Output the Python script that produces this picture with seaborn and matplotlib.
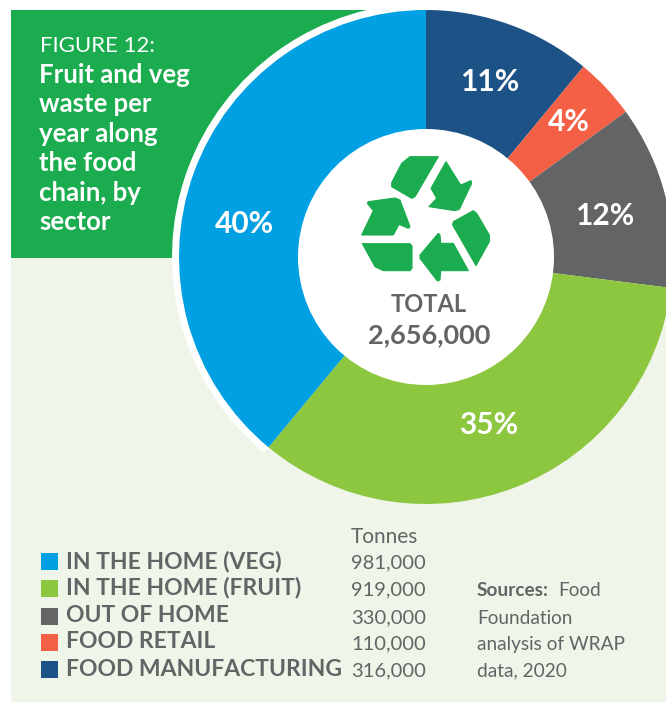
import matplotlib
matplotlib.use("Agg")
import matplotlib.pyplot as plt
from matplotlib.patches import Rectangle, Polygon, Circle, Wedge
import seaborn as sns

sectors = ["IN THE HOME (VEG)", "IN THE HOME (FRUIT)", "OUT OF HOME", "FOOD RETAIL", "FOOD MANUFACTURING"]
tonnes = ["981,000", "919,000", "330,000", "110,000", "316,000"]
# slice sizes, labels are what's printed on it
shares = [39, 34, 12, 4, 11]
share_labels = ["40%", "35%", "12%", "4%", "11%"]
colours = ["#00a0e3", "#8dc63f", "#636466", "#f36046", "#1c5285"]

sns.set_style("white")
plt.rcParams["font.family"] = ["Lato", "DejaVu Sans"]
grey = "#636466"
green = "#1aac4e"
pale = "#eff5e8"

fig = plt.figure(figsize=(6.66, 7.02), dpi=100)
bg = fig.add_axes([0, 0, 1, 1])
bg.set_xlim(0, 666)
bg.set_ylim(702, 0)
bg.axis("off")
bg.add_patch(Rectangle((11, 258), 655, 444, color=pale, lw=0))
bg.add_patch(Rectangle((11, 10), 400, 248, color=green, lw=0))

# donut, centre (426, 257) radius 247 in pixels
cx, cy, r = 426, 257, 247
ax = fig.add_axes([(cx - r) / 666, 1 - (cy + r) / 702, 2 * r / 666, 2 * r / 702], zorder=2)
ax.patch.set_alpha(0)
wedges, _ = ax.pie(shares[::-1], colors=sns.color_palette(colours[::-1]), startangle=90, counterclock=False,
                   radius=1, wedgeprops=dict(lw=0))
ax.set_xlim(-1, 1)
ax.set_ylim(-1, 1)
ax.add_patch(Circle((0, 0), 128 / 247, color="white", lw=0, zorder=5))

# white edge round the blue slice only (y axis of bg runs downwards)
blue = wedges[-1]
bg.add_patch(Wedge((cx, cy), r + 7, -blue.theta2, -blue.theta1, width=10, color="white", lw=0))
bg.add_patch(Rectangle((0, 0), 666, 10, color="white", lw=0))

top = fig.add_axes([0, 0, 1, 1], zorder=3)
top.set_xlim(0, 666)
top.set_ylim(702, 0)
top.axis("off")

label_pos = [(244, 224), (489, 425), (605, 216), (569, 122), (490, 82)]
for lab, (x, y) in zip(share_labels, label_pos):
    top.text(x, y, lab, color="white", fontsize=21.5, fontweight="bold", ha="center", va="center")

# recycling icon, zoomed pixel coords
icon = [
    [(240, 50), (325, 50), (255, 170), (245, 175), (185, 140), (185, 128), (215, 70)],
    [(348, 65), (392, 135), (423, 122), (425, 130), (388, 208), (375, 212), (297, 200), (320, 175), (303, 145)],
    [(430, 212), (440, 220), (478, 285), (478, 305), (438, 377), (368, 255), (370, 245)],
    [(325, 280), (330, 285), (332, 310), (370, 310), (415, 392), (332, 392), (330, 420), (322, 423), (270, 355), (270, 345)],
    [(97, 311), (240, 311), (246, 318), (246, 385), (240, 392), (160, 392), (135, 380)],
    [(95, 285), (130, 212), (112, 190), (115, 185), (195, 174), (210, 180), (240, 260), (235, 265), (207, 253), (190, 285)],
]
for shape in icon:
    pts = [(330 + a / 3, 140 + b / 3) for a, b in shape]
    top.add_patch(Polygon(pts, closed=True, facecolor=green, edgecolor=green, lw=0.8, joinstyle="round"))

top.text(429, 304, "TOTAL", color=grey, fontsize=17, fontweight="bold", ha="center", va="center")
top.text(429, 335, "2,656,000", color=grey, fontsize=19.5, fontweight="bold", ha="center", va="center")

# title block
top.text(40, 46, "FIGURE 12:", color="white", fontsize=16, va="center")
title_lines = ["Fruit and veg", "waste per", "year along", "the food", "chain, by", "sector"]
for i, line in enumerate(title_lines):
    top.text(39, 75 + i * 29.4, line, color="white", fontsize=18.5, fontweight="bold", va="center")

# legend and table
top.text(351, 537, "Tonnes", color=grey, fontsize=15, va="center")
name_y = [561, 588, 616, 642, 669]
for name, t, c, y in zip(sectors, tonnes, colours, name_y):
    top.add_patch(Rectangle((41, y - 8), 17, 17, color=c, lw=0))
    top.text(66, y, name, color=grey, fontsize=16.5, fontweight="bold", va="center")
    top.text(351, y + 2, t, color=grey, fontsize=14.5, va="center")

top.text(477, 591, "Sources:", color=grey, fontsize=13.7, fontweight="bold", va="center")
top.text(558, 591, "Food", color=grey, fontsize=13.7, va="center")
for i, line in enumerate(["Foundation", "analysis of WRAP", "data, 2020"]):
    top.text(477, 618 + i * 26.5, line, color=grey, fontsize=13.7, va="center")

fig.savefig("out.png", dpi=100)
